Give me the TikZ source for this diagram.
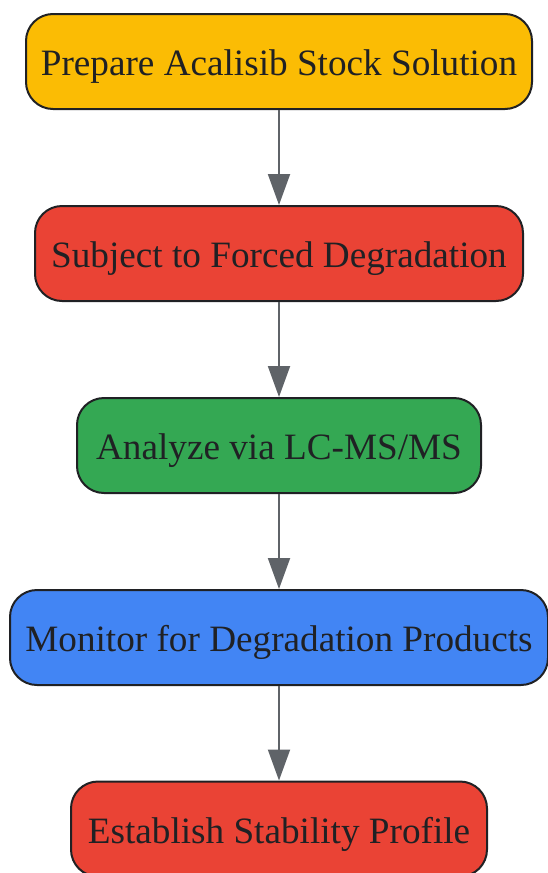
\documentclass[tikz,border=0pt]{standalone}
\usepackage{fontspec}
\setmainfont{Liberation Serif}
\usetikzlibrary{arrows.meta}
\definecolor{cyellow}{HTML}{FBBC04}
\definecolor{cred}{HTML}{EA4335}
\definecolor{cgreen}{HTML}{34A853}
\definecolor{cblue}{HTML}{4285F4}
\definecolor{cborder}{HTML}{202124}
\definecolor{carrow}{HTML}{5F6368}
\tikzset{
  stepbox/.style={draw=cborder, line width=2pt, rounded corners=27pt,
    minimum height=95pt, inner sep=0pt, text=cborder,
    text height=30pt, text depth=2pt,
    font=\fontsize{37.2}{44}\selectfont},
  flow/.style={draw=carrow, line width=2pt, -{Triangle[length=31pt,width=22pt]}}
}
\begin{document}
\begin{tikzpicture}[x=1pt,y=1pt]
\useasboundingbox (0,0) rectangle (547,-873);
\node[stepbox, fill=cyellow, minimum width=506pt] (n1) at (279,-61.5) {Prepare Acalisib Stock Solution};
\node[stepbox, fill=cred, minimum width=488pt] (n2) at (279,-253.5) {Subject to Forced Degradation};
\node[stepbox, fill=cgreen, minimum width=404pt] (n3) at (279,-445.5) {Analyze via LC-MS/MS};
\node[stepbox, fill=cblue, minimum width=538pt] (n4) at (279,-637.5) {Monitor for Degradation Products};
\node[stepbox, fill=cred, minimum width=416pt] (n5) at (279,-829) {Establish Stability Profile};
\draw[flow] (n1) -- (n2);
\draw[flow] (n2) -- (n3);
\draw[flow] (n3) -- (n4);
\draw[flow] (n4) -- (n5);
\end{tikzpicture}
\end{document}
